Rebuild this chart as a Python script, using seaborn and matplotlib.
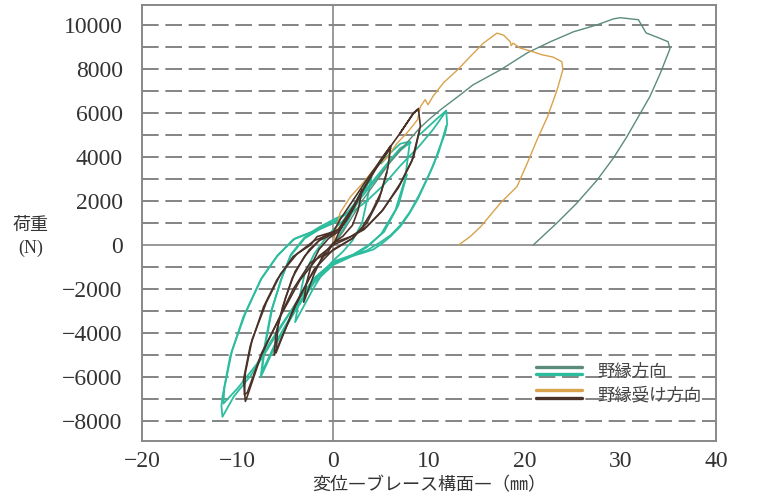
import numpy as np
import pandas as pd
import seaborn as sns
import matplotlib.pyplot as plt
from matplotlib.lines import Line2D
from matplotlib.legend_handler import HandlerBase

# 野縁方向 (monotonic, 一方向)
mono1_x = [0, 1, 2, 3, 4, 5, 6, 7, 8, 9, 10, 11.2, 13.3, 14.6, 17.5, 20.3, 22.7, 25.1,
           27.6, 29.3, 30.0, 31.9, 32.7, 34.0, 35.0, 35.2, 34.2, 33.1, 31.9, 30.7,
           29.3, 27.6, 25.5, 23.4, 20.9]
mono1_y = [0, 600, 1300, 2000, 2600, 3200, 3800, 4300, 4800, 5300, 5700, 6140, 6830, 7270,
           7960, 8730, 9230, 9680, 10000, 10270, 10320, 10230, 9630, 9410, 9230, 8910,
           7810, 6740, 5830, 4920, 3960, 2960, 1920, 1010, 0]

# 野縁受け方向 (monotonic)
mono2_x = [0, 0.2, 0.7, 1.8, 3.1, 4.2, 5.1, 5.6, 6.7, 7.7, 8.8, 9.1, 9.6, 9.9, 10.4,
           11.5, 13.0, 14.3, 15.7, 17.1, 17.8, 18.5, 18.6, 18.8, 19.5, 20.9, 21.8,
           23.0, 23.9, 24.0, 23.4, 22.4, 21.3, 20.3, 19.2, 17.5, 15.4, 14.3, 13.1]
mono2_y = [0, 560, 1460, 2200, 2820, 3420, 3790, 3960, 4640, 5090, 5690, 6280, 6600,
           6370, 6740, 7360, 7960, 8550, 9170, 9620, 9530, 9230, 9050, 9170, 8950,
           8770, 8640, 8530, 8320, 7960, 7050, 5830, 4780, 3740, 2650, 1920, 830,
           380, 0]

# 野縁方向 cyclic loops
cyc1_loops = [
    [(0, 0), (1, 700), (2, 1500), (3, 2300), (4, 3100), (3.5, 2000), (3, 1000),
     (2, 200), (1, -300), (0, -700), (-1, -1200), (-2, -1900), (-3, -2700),
     (-4, -3500), (-3.5, -2300), (-3, -1300), (-2, -400), (-1, 200), (0, 700),
     (1, 1100), (2, 1700), (3, 2500), (4, 3200)],
    [(5, 3700), (6, 4200), (7, 4600), (8, 4700), (7.5, 3000), (6.5, 1600), (5, 500),
     (3.5, -100), (2, -500), (0, -900), (-2, -1700), (-4, -3000), (-6, -4500),
     (-7.6, -6000), (-7.2, -4600), (-6.5, -3000), (-5.5, -1600), (-4.5, -500),
     (-3, 300), (-1.5, 700), (0, 1000), (1.5, 1500), (3, 2300), (4.5, 3100),
     (6, 3900), (7, 4400), (8.1, 4650)],
    [(7.7, 3200), (6.8, 1800), (5.3, 600), (3.7, 0), (2, -450), (0, -850),
     (-2, -1600), (-4, -2900), (-6, -4400), (-7.5, -5800), (-7.1, -4500),
     (-6.4, -2900), (-5.4, -1500), (-4.4, -400), (-3, 350), (-1.5, 750), (0, 1050),
     (1.5, 1450), (3, 2200), (4.5, 3000), (6, 3800), (7, 4300), (8, 4650)],
    [(9, 5000), (10, 5400), (11, 5800), (11.8, 6100), (11.9, 5500), (11.7, 5090),
     (11, 4300), (10.4, 3560), (9.6, 2800), (8.8, 2060), (7.9, 1400), (7, 840),
     (6, 400), (5.2, 110), (4.2, -200), (3, -370), (1.8, -520), (0, -800),
     (-1.7, -1430), (-3.4, -2330), (-5.2, -3530), (-6.9, -4740), (-8.7, -5960),
     (-10.4, -6870), (-11.6, -7800), (-11.7, -7300), (-11.6, -6900), (-10.8, -5070),
     (-9.4, -3250), (-7.6, -1580), (-5.9, -520), (-4.2, 250), (-2.4, 560),
     (-1.4, 830), (0.4, 1240), (2, 1500), (3.5, 2000), (5.2, 2700), (7, 3600),
     (9, 4500), (10.4, 5230), (11.5, 5900), (11.8, 6100)],
    [(11.8, 5400), (11, 4200), (10, 3200), (9, 2300), (8, 1500), (7, 900), (6, 450),
     (5, 150), (3.5, -250), (2, -450), (0, -750), (-2, -1500), (-4, -2700),
     (-6, -4000), (-8, -5400), (-10, -6500), (-11.5, -7200), (-11.4, -6500),
     (-10.6, -4800), (-9.2, -3100), (-7.5, -1500), (-5.8, -450), (-4, 300),
     (-2.2, 600), (-0.5, 900), (0.5, 1100)],
]

# 野縁受け方向 cyclic loops
cyc2_loops = [
    [(0, 0), (0.5, 500), (1, 900), (2, 1600), (3, 2500), (2.6, 1600), (2, 900),
     (1, 400), (0, 100), (-1, -400), (-2, -1300), (-3.1, -2600), (-2.8, -1700),
     (-2.3, -900), (-1.5, -200), (-0.5, 300), (0.5, 600), (1.5, 1200), (2.5, 2000),
     (3, 2500)],
    [(4, 3200), (5, 3900), (6, 4500), (5.7, 3500), (5, 2400), (4, 1500), (3, 800),
     (2, 300), (0.5, -100), (-1, -500), (-2.5, -1500), (-4, -2800), (-5, -3800),
     (-6.2, -5000), (-6, -4000), (-5.3, -2800), (-4.3, -1500), (-3, -500),
     (-1.5, 200), (0, 500), (1, 900), (2, 1600), (3, 2400), (4.5, 3500), (6, 4500)],
    [(5.6, 3300), (4.8, 2100), (3.5, 1000), (2, 300), (0, -200), (-2, -1100),
     (-4, -2700), (-6, -4900), (-5.8, -3700), (-5, -2400), (-4, -1200),
     (-2.5, -200), (-1, 400), (0.5, 700), (2, 1700), (4, 3200), (6, 4400)],
    [(7, 5100), (8.4, 6000), (8.9, 6150), (9.1, 5400), (8.4, 4000), (7, 2800),
     (5.2, 1600), (3.5, 840), (1.8, 380), (0, 100), (-0.6, -340), (-2.4, -800),
     (-4.2, -2000), (-5.9, -3530), (-7.6, -5070), (-9, -6870), (-9.2, -7100),
     (-9.4, -6120), (-8.7, -4600), (-7.3, -2810), (-5.9, -1580), (-4.2, -520),
     (-2.4, 0), (-1.7, 380), (0, 600), (0.7, 1150), (2.1, 2060), (3.5, 2970),
     (5.2, 4010), (7, 5090), (8.4, 6000), (8.9, 6200)],
    [(9, 5200), (8.2, 3800), (6.8, 2600), (5, 1500), (3.2, 700), (1.5, 300), (0, 0),
     (-1.5, -500), (-3.5, -1600), (-5.5, -3200), (-7.5, -4900), (-9, -6700),
     (-9.3, -6800), (-9.2, -5800), (-8.5, -4300), (-7, -2600), (-5.5, -1300),
     (-3.8, -400), (-2, 200), (0, 550)],
]

c_mono1 = "#5b8b7b"
c_cyc1 = "#2dbd9e"
c_mono2 = "#d9a24c"
c_cyc2 = "#4b3229"

sns.set_style("white")
plt.rcParams['font.family'] = ['Liberation Serif', 'Noto Sans CJK JP', 'DejaVu Sans']

fig = plt.figure(figsize=(7.64, 4.95), dpi=100)
ax = fig.add_axes([0.186, 0.109, 0.751, 0.881])

ax.set_xlim(-20, 40)
ax.set_ylim(-8900, 10900)
for yv in range(-8000, 11000, 1000):
    if yv == 0:
        continue
    ax.axhline(yv, color="#707070", lw=1.2, ls=(0, (10, 4)), zorder=1)
ax.axhline(0, color="#888888", lw=1.2, zorder=1)
ax.axvline(0, color="#888888", lw=1.2, zorder=1)


def draw(xs, ys, color, lw):
    df = pd.DataFrame({"x": xs, "y": ys})
    sns.lineplot(data=df, x="x", y="y", sort=False, estimator=None,
                 color=color, lw=lw, ax=ax, zorder=3)


for loop in cyc1_loops:
    draw([p[0] for p in loop], [p[1] for p in loop], c_cyc1, 1.3)
draw(mono1_x, mono1_y, c_mono1, 1.0)
draw(mono2_x, mono2_y, c_mono2, 1.0)
for loop in cyc2_loops:
    draw([p[0] for p in loop], [p[1] for p in loop], c_cyc2, 1.2)

ax.set_xticks(range(-20, 41, 10))
ax.set_yticks(range(-8000, 10001, 2000))
ax.tick_params(length=0, labelsize=17, colors="#333333")
ax.tick_params(axis="x", pad=7)
ax.tick_params(axis="y", pad=14)
for s in ax.spines.values():
    s.set_color("#888888")
    s.set_linewidth(1.4)

ax.set_xlabel("変位―ブレース構面―（㎜）", fontsize=13, color="#333333", labelpad=3,
              family=['Noto Sans CJK JP', 'DejaVu Sans'])
ax.set_ylabel("")
fig.text(0.040, 0.535, "荷重", fontsize=13, color="#333333", ha="center",
         family=['Noto Sans CJK JP', 'DejaVu Sans'])
fig.text(0.040, 0.49, "(N)", fontsize=13, color="#333333", ha="center")


class DoubleLine(HandlerBase):
    def create_artists(self, legend, orig_handle, xdescent, ydescent, width, height,
                       fontsize, trans):
        c1, c2 = orig_handle
        top = Line2D([0, width], [height * 0.8] * 2, color=c1, lw=2.4, transform=trans)
        bot = Line2D([0, width], [height * 0.2] * 2, color=c2, lw=2.4, transform=trans)
        return [top, bot]


leg = ax.legend([(c_mono1, c_cyc1), (c_mono2, c_cyc2)], ["野縁方向", "野縁受け方向"],
                handler_map={tuple: DoubleLine()}, loc="upper left",
                bbox_to_anchor=(0.66, 0.215), frameon=False, handlelength=2.6,
                handletextpad=0.9, labelspacing=0.3,
                prop={"family": ['Noto Sans CJK JP', 'DejaVu Sans'], "size": 12.5})
for t in leg.get_texts():
    t.set_color("#444444")

fig.savefig("out.png", dpi=100)
